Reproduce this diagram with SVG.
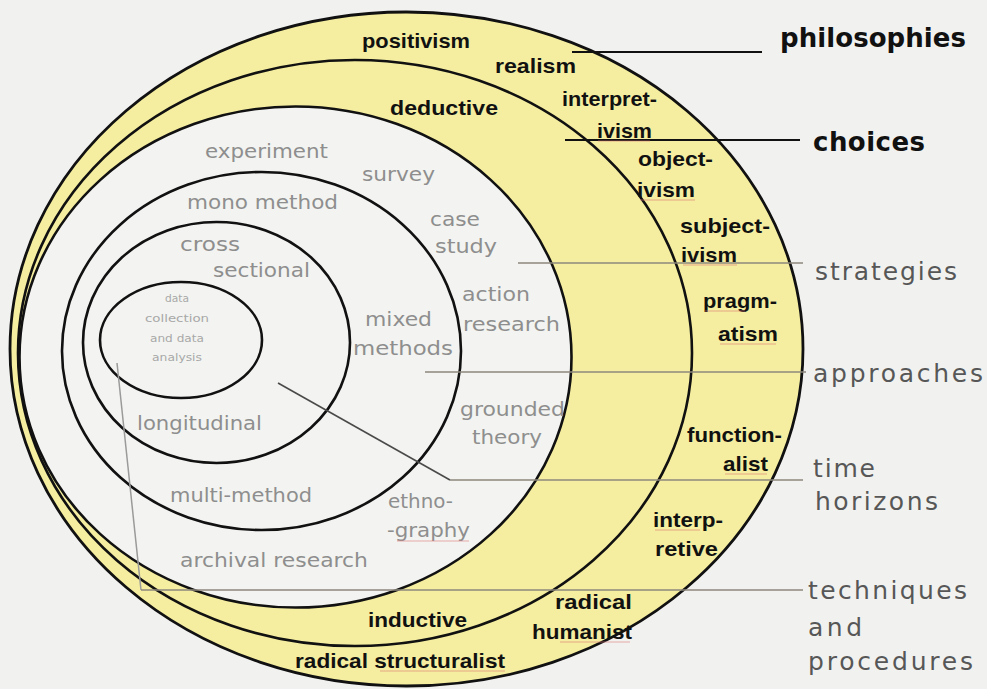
<svg xmlns="http://www.w3.org/2000/svg" width="987" height="689" viewBox="0 0 987 689">
<style>
.ring{fill:none;stroke:#111;stroke-width:2.6}
.blk{font-family:"Liberation Sans",Arial,sans-serif;font-weight:bold;font-size:21px;fill:#111}
.gry{font-family:"DejaVu Sans",Verdana,sans-serif;font-size:19px;fill:#8e8e8e}
.core{font-family:"DejaVu Sans",Verdana,sans-serif;font-size:10px;fill:#a8a8a8;text-anchor:middle}
.lab{font-family:"DejaVu Sans",Verdana,sans-serif;font-size:25px;fill:#575757}
.labb{font-family:"DejaVu Sans",Verdana,sans-serif;font-size:26px;font-weight:bold;fill:#111}
.lk{fill:none;stroke:#111;stroke-width:2}
.lg{fill:none;stroke:#8c877c;stroke-width:1.5}
.sq{fill:none;stroke:#e07a7a;stroke-width:1.2;opacity:0.6}
</style>
<rect x="0" y="0" width="987" height="689" fill="#f1f2f0"/>

<g id="layer-philosophies">
<ellipse cx="406.5" cy="349" rx="396.5" ry="337" fill="#f5eea0" stroke="#111" stroke-width="2.8"/>
</g>
<g id="layer-approaches">
<ellipse class="ring" cx="355" cy="353" rx="337" ry="293"/>
</g>
<g id="layer-strategies">
<ellipse cx="295.5" cy="357" rx="276" ry="250.5" fill="#f3f4f1" stroke="#111" stroke-width="2.6"/>
</g>
<g id="layer-choices">
<ellipse class="ring" cx="261.5" cy="351" rx="199.5" ry="179"/>
</g>
<g id="layer-time-horizons">
<ellipse class="ring" cx="216.5" cy="342.5" rx="133.5" ry="120.5"/>
</g>
<g id="layer-techniques">
<ellipse class="ring" cx="181" cy="340" rx="81" ry="58"/>
<text class="core" x="177" y="302" textLength="24" lengthAdjust="spacingAndGlyphs">data</text>
<text class="core" x="177" y="322" textLength="64" lengthAdjust="spacingAndGlyphs">collection</text>
<text class="core" x="177" y="342" textLength="54" lengthAdjust="spacingAndGlyphs">and data</text>
<text class="core" x="177" y="361" textLength="50" lengthAdjust="spacingAndGlyphs">analysis</text>
</g>

<g id="connectors">
<line class="lk" x1="572" y1="52" x2="762" y2="52"/>
<line class="lk" x1="565" y1="140" x2="800" y2="140"/>
<line class="lg" x1="518" y1="263" x2="803" y2="263"/>
<line class="lg" x1="425" y1="372" x2="806" y2="372"/>
<line stroke="#4a4a4a" stroke-width="1.6" x1="278" y1="383" x2="450" y2="480"/>
<line class="lg" x1="450" y1="480" x2="803" y2="480"/>
<line stroke="#9a9a9a" stroke-width="1.5" x1="117" y1="363" x2="141" y2="590"/>
<line class="lg" x1="141" y1="590" x2="803" y2="590"/>
</g>

<g id="text-philosophies">
<text class="blk" x="362" y="48" textLength="108" lengthAdjust="spacingAndGlyphs">positivism</text>
<text class="blk" x="495" y="73" textLength="81" lengthAdjust="spacingAndGlyphs">realism</text>
<text class="blk" x="562" y="106" textLength="95" lengthAdjust="spacingAndGlyphs">interpret-</text>
<text class="blk" x="597" y="138" textLength="55" lengthAdjust="spacingAndGlyphs">ivism</text>
<text class="blk" x="638" y="166" textLength="75" lengthAdjust="spacingAndGlyphs">object-</text>
<text class="blk" x="637" y="197" textLength="58" lengthAdjust="spacingAndGlyphs">ivism</text>
<text class="blk" x="680" y="233" textLength="90" lengthAdjust="spacingAndGlyphs">subject-</text>
<text class="blk" x="681" y="262" textLength="56" lengthAdjust="spacingAndGlyphs">ivism</text>
<text class="blk" x="703" y="308" textLength="74" lengthAdjust="spacingAndGlyphs">pragm-</text>
<text class="blk" x="718" y="341" textLength="60" lengthAdjust="spacingAndGlyphs">atism</text>
<text class="blk" x="687" y="442" textLength="95" lengthAdjust="spacingAndGlyphs">function-</text>
<text class="blk" x="723" y="471" textLength="45" lengthAdjust="spacingAndGlyphs">alist</text>
<text class="blk" x="653" y="527" textLength="70" lengthAdjust="spacingAndGlyphs">interp-</text>
<text class="blk" x="655" y="556" textLength="63" lengthAdjust="spacingAndGlyphs">retive</text>
<text class="blk" x="555" y="609" textLength="77" lengthAdjust="spacingAndGlyphs">radical</text>
<text class="blk" x="532" y="639" textLength="100" lengthAdjust="spacingAndGlyphs">humanist</text>
<text class="blk" x="295" y="668" textLength="210" lengthAdjust="spacingAndGlyphs">radical structuralist</text>
</g>
<g id="text-approaches">
<text class="blk" x="390" y="115" textLength="108" lengthAdjust="spacingAndGlyphs">deductive</text>
<text class="blk" x="368" y="627" textLength="99" lengthAdjust="spacingAndGlyphs">inductive</text>
</g>
<g id="text-strategies">
<text class="gry" x="205" y="158" textLength="123" lengthAdjust="spacingAndGlyphs">experiment</text>
<text class="gry" x="362" y="181" textLength="73" lengthAdjust="spacingAndGlyphs">survey</text>
<text class="gry" x="430" y="226" textLength="50" lengthAdjust="spacingAndGlyphs">case</text>
<text class="gry" x="435" y="253" textLength="62" lengthAdjust="spacingAndGlyphs">study</text>
<text class="gry" x="462" y="301" textLength="68" lengthAdjust="spacingAndGlyphs">action</text>
<text class="gry" x="463" y="331" textLength="97" lengthAdjust="spacingAndGlyphs">research</text>
<text class="gry" x="460" y="416" textLength="105" lengthAdjust="spacingAndGlyphs">grounded</text>
<text class="gry" x="472" y="444" textLength="70" lengthAdjust="spacingAndGlyphs">theory</text>
<text class="gry" x="388" y="508" textLength="65" lengthAdjust="spacingAndGlyphs">ethno-</text>
<text class="gry" x="387" y="537" textLength="83" lengthAdjust="spacingAndGlyphs">-graphy</text>
<text class="gry" x="180" y="567" textLength="188" lengthAdjust="spacingAndGlyphs">archival research</text>
</g>
<g id="text-choices">
<text class="gry" x="187" y="209" textLength="151" lengthAdjust="spacingAndGlyphs">mono method</text>
<text class="gry" x="365" y="326" textLength="67" lengthAdjust="spacingAndGlyphs">mixed</text>
<text class="gry" x="353" y="355" textLength="100" lengthAdjust="spacingAndGlyphs">methods</text>
<text class="gry" x="170" y="502" textLength="142" lengthAdjust="spacingAndGlyphs">multi-method</text>
</g>
<g id="text-time-horizons">
<text class="gry" x="180" y="251" textLength="60" lengthAdjust="spacingAndGlyphs">cross</text>
<text class="gry" x="213" y="277" textLength="97" lengthAdjust="spacingAndGlyphs">sectional</text>
<text class="gry" x="137" y="430" textLength="125" lengthAdjust="spacingAndGlyphs">longitudinal</text>
</g>

<g id="spellcheck-marks">
<path class="sq" d="M598,141 h52 M640,200 h55 M683,265 h54 M705,311 h40 M720,344 h56 M725,474 h42 M655,530 h45 M560,642 h70 M380,671 h125 M397,541 h72"/>
</g>

<g id="label-philosophies"><text class="labb" x="780" y="47" textLength="186">philosophies</text></g>
<g id="label-choices"><text class="labb" x="813" y="151" textLength="112">choices</text></g>
<g id="label-strategies"><text class="lab" x="815" y="280" textLength="142">strategies</text></g>
<g id="label-approaches"><text class="lab" x="813" y="382" textLength="170">approaches</text></g>
<g id="label-time-horizons">
<text class="lab" x="813" y="477" textLength="62">time</text>
<text class="lab" x="815" y="510" textLength="123">horizons</text>
</g>
<g id="label-techniques">
<text class="lab" x="808" y="599" textLength="159">techniques</text>
<text class="lab" x="808" y="636" textLength="54">and</text>
<text class="lab" x="808" y="670" textLength="165">procedures</text>
</g>
</svg>
